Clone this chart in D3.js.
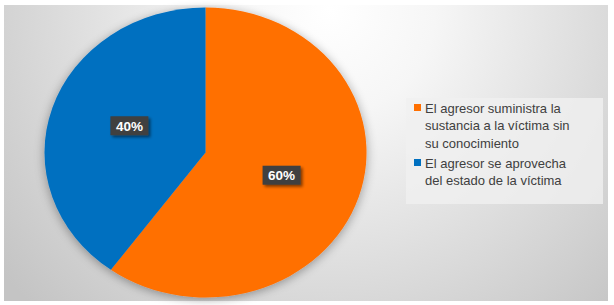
<!DOCTYPE html>
<html>
<head>
<meta charset="utf-8">
<script src="https://cdn.jsdelivr.net/npm/d3@7"></script>
<style>
  body { margin: 0; background: #fff; }
  svg { display: block; font-family: "Liberation Sans", Arial, sans-serif; }
</style>
</head>
<body>
<svg id="chart" width="614" height="305"></svg>
<script>
// data
var categories = ["El agresor suministra la sustancia a la víctima sin su conocimiento",
                  "El agresor se aprovecha del estado de la víctima"];
var values = [60, 40];
var colors = ["#ff6f00", "#0070c0"];
var legendLines = [["El agresor suministra la", "sustancia a la víctima sin", "su conocimiento"],
                   ["El agresor se aprovecha", "del estado de la víctima"]];

var svg = d3.select("#chart");
var defs = svg.append("defs");

var grad = defs.append("radialGradient")
    .attr("id", "bg")
    .attr("gradientUnits", "userSpaceOnUse")
    .attr("cx", 330).attr("cy", 10).attr("r", 420);
grad.append("stop").attr("offset", "0%").attr("stop-color", "#ffffff");
grad.append("stop").attr("offset", "25%").attr("stop-color", "#f6f6f6");
grad.append("stop").attr("offset", "100%").attr("stop-color", "#c4c4c4");

var shadow = defs.append("filter").attr("id", "shadow")
    .attr("x", "-20%").attr("y", "-20%").attr("width", "140%").attr("height", "140%");
shadow.append("feGaussianBlur").attr("in", "SourceAlpha").attr("stdDeviation", 5).attr("result", "b");
shadow.append("feOffset").attr("in", "b").attr("dx", 0).attr("dy", 2).attr("result", "o");
shadow.append("feComponentTransfer").attr("in", "o").attr("result", "s")
  .append("feFuncA").attr("type", "linear").attr("slope", 0.35);
var m = shadow.append("feMerge");
m.append("feMergeNode").attr("in", "s");
m.append("feMergeNode").attr("in", "SourceGraphic");

var lblShadow = defs.append("filter").attr("id", "lblshadow")
    .attr("x", "-30%").attr("y", "-30%").attr("width", "160%").attr("height", "170%");
lblShadow.append("feGaussianBlur").attr("in", "SourceAlpha").attr("stdDeviation", 1.5).attr("result", "b");
lblShadow.append("feOffset").attr("in", "b").attr("dx", 2).attr("dy", 2).attr("result", "o");
lblShadow.append("feComponentTransfer").attr("in", "o").attr("result", "s")
  .append("feFuncA").attr("type", "linear").attr("slope", 0.5);
var m2 = lblShadow.append("feMerge");
m2.append("feMergeNode").attr("in", "s");
m2.append("feMergeNode").attr("in", "SourceGraphic");

svg.append("rect")
    .attr("x", 4).attr("y", 5).attr("width", 604).attr("height", 296)
    .attr("fill", "url(#bg)");

// pie (slightly stretched horizontally, as in the original)
var cx = 205.5, cy = 152.5, rx = 161, ry = 145;
var pie = d3.pie().sort(null).value(function(d) { return d; });
var arcs = pie(values);
var arc = d3.arc().innerRadius(0).outerRadius(ry);

var pieG = svg.append("g")
    .attr("transform", "translate(" + cx + "," + cy + ") scale(" + (rx / ry) + ",1)")
    .attr("filter", "url(#shadow)");

pieG.selectAll("path")
    .data(arcs)
  .enter().append("path")
    .attr("d", arc)
    .attr("fill", function(d, i) { return colors[i]; });

// data labels
var labelArc = d3.arc().innerRadius(80).outerRadius(80);
var labels = svg.append("g").selectAll("g")
    .data(arcs)
  .enter().append("g")
    .attr("transform", function(d) {
      var c = labelArc.centroid(d);
      return "translate(" + (cx + c[0]) + "," + (cy + c[1] - 2) + ")";
    });

labels.append("rect")
    .attr("x", -19).attr("y", -9.5).attr("width", 38).attr("height", 19)
    .attr("fill", "#404040")
    .attr("filter", "url(#lblshadow)");

labels.append("text")
    .attr("text-anchor", "middle")
    .attr("dy", "0.36em")
    .attr("fill", "#ffffff")
    .attr("font-weight", "bold")
    .attr("font-size", 13.5)
    .text(function(d) { return d.data + "%"; });

// legend
var legend = svg.append("g");
legend.append("rect")
    .attr("x", 406).attr("y", 98).attr("width", 197).attr("height", 106)
    .attr("fill", "#f0f0f0").attr("fill-opacity", 0.8);

var lineH = 17.5;
var itemY = [108, 163];
var items = legend.selectAll("g.item")
    .data(legendLines)
  .enter().append("g")
    .attr("class", "item")
    .attr("transform", function(d, i) { return "translate(0," + itemY[i] + ")"; });

items.append("rect")
    .attr("x", 414).attr("y", -4).attr("width", 7).attr("height", 7)
    .attr("fill", function(d, i) { return colors[i]; });

items.selectAll("text")
    .data(function(d) { return d; })
  .enter().append("text")
    .attr("x", 425)
    .attr("y", function(d, j) { return j * lineH; })
    .attr("dy", "0.36em")
    .attr("font-size", 13)
    .attr("fill", "#404040")
    .text(function(d) { return d; });
</script>
</body>
</html>
